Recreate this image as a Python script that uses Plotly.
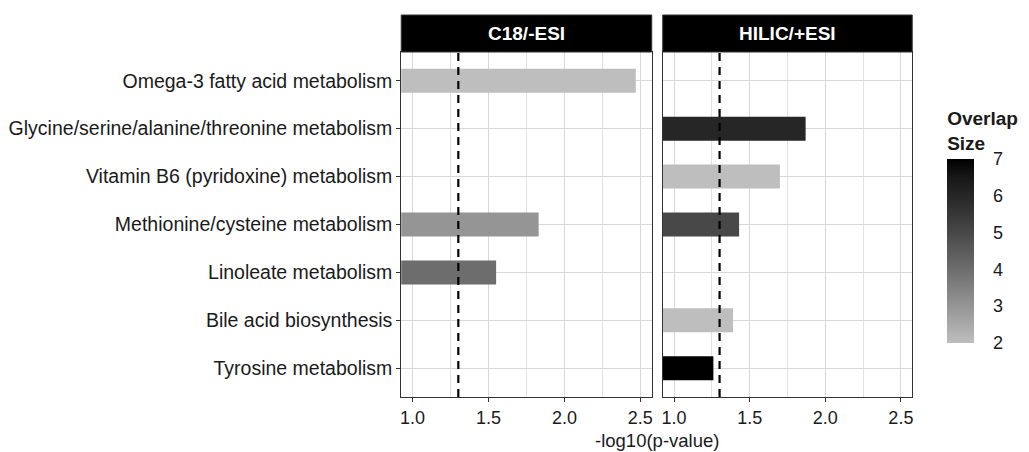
import plotly.graph_objects as go

# ---------------- data ----------------
pathways = [
    "Omega-3 fatty acid metabolism",
    "Glycine/serine/alanine/threonine metabolism",
    "Vitamin B6 (pyridoxine) metabolism",
    "Methionine/cysteine metabolism",
    "Linoleate metabolism",
    "Bile acid biosynthesis",
    "Tyrosine metabolism",
]
panels = ["C18/-ESI", "HILIC/+ESI"]

c18_pathways = ["Omega-3 fatty acid metabolism", "Methionine/cysteine metabolism", "Linoleate metabolism"]
c18_values = [2.47, 1.83, 1.55]
c18_overlap = [2, 3, 4]

hilic_pathways = ["Glycine/serine/alanine/threonine metabolism", "Vitamin B6 (pyridoxine) metabolism",
                  "Methionine/cysteine metabolism", "Bile acid biosynthesis", "Tyrosine metabolism"]
hilic_values = [1.87, 1.70, 1.43, 1.39, 1.26]
hilic_overlap = [6, 2, 5, 2, 7]

threshold = 1.301  # -log10(0.05)
x_ticks = [1.0, 1.5, 2.0, 2.5]
x_minor = [1.25, 1.75, 2.25]
overlap_ticks = [2, 3, 4, 5, 6, 7]

# ---------------- colour scale (grey -> black, lightness interpolation) ----------------
def grey_from_L(L):
    Y = ((L + 16) / 116) ** 3 if L > 8 else L / 903.3
    s = 12.92 * Y if Y <= 0.0031308 else 1.055 * Y ** (1 / 2.4) - 0.055
    v = max(0, min(255, round(255 * s)))
    return f"rgb({v},{v},{v})"

L0 = 76.95
n = 11
colorscale = [[i / (n - 1), grey_from_L(L0 * (1 - i / (n - 1)))] for i in range(n)]

# ---------------- figure ----------------
OFF = 8  # page body margin
W, H = 1029 - OFF, 452 - OFF
def px_x(p): return (p - OFF) / W
def px_y(p): return 1 - (p - OFF) / H

fig = go.Figure()
fig.add_trace(go.Bar(
    x=c18_values, y=c18_pathways, orientation="h", width=0.5,
    marker=dict(color=c18_overlap, coloraxis="coloraxis", line=dict(width=0)),
    xaxis="x", yaxis="y", showlegend=False,
))
fig.add_trace(go.Bar(
    x=hilic_values, y=hilic_pathways, orientation="h", width=0.5,
    marker=dict(color=hilic_overlap, coloraxis="coloraxis", line=dict(width=0)),
    xaxis="x2", yaxis="y2", showlegend=False,
))

left = (401, 652)
right = (663, 913)
top, bottom = 52, 397
strip_top = 15

xrange = [0.925, 2.575]
grid_col = "#d8d8d8"
border_col = "#333333"
text_col = "#1a1a1a"
font_family = "Liberation Sans, Arial, sans-serif"

xaxis_common = dict(
    range=xrange, tickvals=x_ticks, ticktext=[f"{v:.1f}" for v in x_ticks],
    showgrid=True, gridcolor=grid_col, gridwidth=1,
    minor=dict(tickvals=x_minor, showgrid=True, gridcolor="#e2e2e2", gridwidth=1, ticks=""),
    ticks="outside", ticklen=4, tickcolor=border_col, tickwidth=1,
    showline=True, linecolor=border_col, linewidth=1, mirror=True,
    zeroline=False, tickfont=dict(size=18, color=text_col),
)
yaxis_common = dict(
    type="category", categoryorder="array", categoryarray=pathways[::-1],
    range=[-0.6, 6.6], showgrid=True, gridcolor=grid_col, gridwidth=1,
    showline=True, linecolor=border_col, linewidth=1, mirror=True, zeroline=False,
    tickfont=dict(size=19.5, color=text_col),
)

fig.update_layout(
    width=W, height=H,
    margin=dict(l=0, r=0, t=0, b=0),
    paper_bgcolor="white", plot_bgcolor="white",
    font=dict(family=font_family, size=18, color=text_col),
    xaxis=dict(domain=[px_x(left[0]), px_x(left[1])], anchor="y", **xaxis_common),
    xaxis2=dict(domain=[px_x(right[0]), px_x(right[1])], anchor="y2", **xaxis_common),
    yaxis=dict(domain=[px_y(bottom), px_y(top)], anchor="x", ticks="outside", ticklen=4,
               tickcolor=border_col, automargin=False, **yaxis_common),
    yaxis2=dict(domain=[px_y(bottom), px_y(top)], anchor="x2", showticklabels=False, ticks="",
                matches="y", **yaxis_common),
    coloraxis=dict(
        colorscale=colorscale, cmin=2, cmax=7,
        colorbar=dict(
            title=dict(text="<b>Overlap<br>Size</b>", side="top", font=dict(size=19, color=text_col)),
            x=px_x(948), xanchor="left", xpad=0,
            y=px_y(343), yanchor="bottom", ypad=0,
            thickness=27, thicknessmode="pixels", len=235, lenmode="pixels",
            tickvals=overlap_ticks, ticks="outside", ticklen=16, tickcolor="rgba(0,0,0,0)", tickwidth=1,
            outlinewidth=0, tickfont=dict(size=18, color=text_col),
        ),
    ),
)

# threshold dashed lines
for xr in ["x", "x2"]:
    fig.add_shape(type="line", xref=xr, yref="paper", x0=threshold, x1=threshold,
                  y0=px_y(bottom), y1=px_y(top),
                  line=dict(color="black", width=2.2, dash="8px,6px"), layer="above")

# strips
for (l, r), name in zip([left, right], panels):
    fig.add_shape(type="rect", xref="paper", yref="paper",
                  x0=px_x(l), x1=px_x(r), y0=px_y(top), y1=px_y(strip_top),
                  fillcolor="black", line=dict(color=border_col, width=1))
    fig.add_annotation(xref="paper", yref="paper", x=px_x((l + r) / 2), y=px_y((top + strip_top) / 2),
                       text=f"<b>{name}</b>", showarrow=False, font=dict(size=19, color="white"),
                       xanchor="center", yanchor="middle")

# axis title
fig.add_annotation(xref="paper", yref="paper", x=px_x((left[0] + right[1]) / 2), y=px_y(440),
                   text="-log10(p-value)", showarrow=False, font=dict(size=18.5, color=text_col),
                   xanchor="center", yanchor="middle")

fig.write_html("out.html")
